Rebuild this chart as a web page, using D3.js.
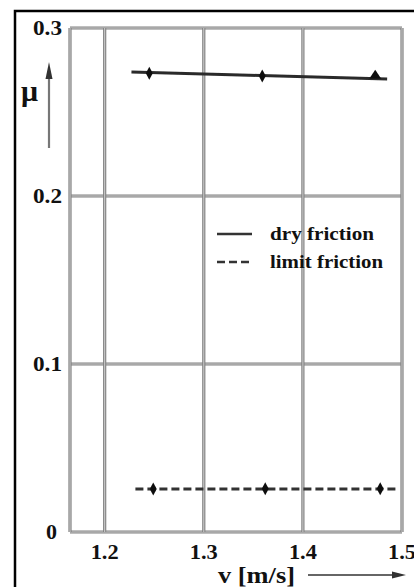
<!DOCTYPE html>
<html>
<head>
<meta charset="utf-8">
<script src="https://cdn.jsdelivr.net/npm/d3@7"></script>
<style>
  html, body { margin: 0; padding: 0; background: #fff; overflow: hidden; }
  svg { display: block; }
  text { font-family: "Liberation Serif", "DejaVu Serif", serif; font-weight: bold; fill: #111; }
</style>
</head>
<body>
<svg id="chart" width="414" height="587"></svg>
<script>
// axis ticks
const xTicks = [1.2, 1.3, 1.4, 1.5];
const yTicks = [0, 0.1, 0.2, 0.3];
const xTickLabels = ["1.2", "1.3", "1.4", "1.5"];
const yTickLabels = ["0", "0.1", "0.2", "0.3"];

// dry friction: fitted line ends and measured points
const dryLineV = [1.227, 1.485];
const dryLineMu = [0.2738, 0.2696];
const dryV = [1.245, 1.359, 1.473];
const dryMu = [0.2731, 0.2714, 0.2704];

// limit friction
const limitLineV = [1.231, 1.496];
const limitLineMu = [0.0256, 0.0256];
const limitV = [1.249, 1.362, 1.478];
const limitMu = [0.0256, 0.0257, 0.0258];

const legendNames = ["dry friction", "limit friction"];

const svg = d3.select("#chart");

const x = d3.scaleLinear().domain([1.165, 1.5]).range([70, 402]);
const y = d3.scaleLinear().domain([0, 0.3]).range([532, 28]);

// soft blur so the marks look like the scanned original
const defs = svg.append("defs");
defs.append("filter").attr("id", "soft")
  .attr("x", -0.2).attr("y", -1).attr("width", 1.4).attr("height", 3)
  .append("feGaussianBlur").attr("stdDeviation", 0.6);

// outer frame (only top and left edges are visible)
svg.append("path")
  .attr("d", "M15,600 L15,11 L420,11")
  .attr("fill", "none")
  .attr("stroke", "#000")
  .attr("stroke-width", 2.5);

// grid: doubled gray lines like the scan
const grid = svg.append("g").attr("class", "grid");
function gridLine(x1, y1, x2, y2) {
  grid.append("line").attr("x1", x1).attr("y1", y1).attr("x2", x2).attr("y2", y2)
    .attr("stroke", "#808080").attr("stroke-width", 3.2);
  grid.append("line").attr("x1", x1).attr("y1", y1).attr("x2", x2).attr("y2", y2)
    .attr("stroke", "#d0d0d0").attr("stroke-width", 1);
}
const [x0, x1] = x.range();
const [y0, y1] = y.range();
yTicks.forEach(t => gridLine(x0, y(t), x1, y(t)));
gridLine(x0, y1, x0, y0);
xTicks.forEach(t => gridLine(x(t), y1, x(t), y0));

// tick labels
svg.append("g").selectAll("text")
  .data(yTicks)
  .join("text")
  .attr("x", d => d === 0 ? 57 : 62)
  .attr("y", d => y(d) + 7)
  .attr("text-anchor", "end")
  .attr("font-size", 22)
  .attr("textLength", d => d === 0 ? 11 : 29)
  .attr("lengthAdjust", "spacingAndGlyphs")
  .text((d, i) => yTickLabels[i]);

svg.append("g").selectAll("text")
  .data(xTicks)
  .join("text")
  .attr("x", d => x(d))
  .attr("y", 559)
  .attr("text-anchor", "middle")
  .attr("font-size", 22)
  .attr("textLength", 28)
  .attr("lengthAdjust", "spacingAndGlyphs")
  .text((d, i) => xTickLabels[i]);

// axis titles with arrows
svg.append("text")
  .attr("x", 21).attr("y", 101)
  .attr("font-size", 30)
  .attr("font-weight", "normal")
  .text("μ");

svg.append("text")
  .attr("x", 218).attr("y", 583)
  .attr("font-size", 23)
  .attr("textLength", 77)
  .attr("lengthAdjust", "spacingAndGlyphs")
  .text("v [m/s]");

const arrows = svg.append("g").attr("filter", "url(#soft)");
arrows.append("line")
  .attr("x1", 49).attr("y1", 148).attr("x2", 49).attr("y2", 70)
  .attr("stroke", "#777").attr("stroke-width", 2.2);
arrows.append("path")
  .attr("d", "M49,62 L52.5,79 L45.5,79 Z")
  .attr("fill", "#333");
arrows.append("line")
  .attr("x1", 308).attr("y1", 575).attr("x2", 396).attr("y2", 575)
  .attr("stroke", "#666").attr("stroke-width", 2);
arrows.append("path")
  .attr("d", "M406,575 L392,571.5 L392,578.5 Z")
  .attr("fill", "#333");

// data lines
const line = d3.line().x(d => x(d[0])).y(d => y(d[1]));
const marks = svg.append("g").attr("filter", "url(#soft)");

marks.append("path")
  .datum(d3.zip(dryLineV, dryLineMu))
  .attr("d", line)
  .attr("fill", "none")
  .attr("stroke", "#2a2a2a")
  .attr("stroke-width", 3);

marks.append("path")
  .datum(d3.zip(limitLineV, limitLineMu))
  .attr("d", line)
  .attr("fill", "none")
  .attr("stroke", "#333")
  .attr("stroke-width", 3)
  .attr("stroke-dasharray", "8,4");

// point markers: narrow vertical diamonds (last dry one is a triangle)
const diamond = "M0,-6.5 L3.5,0 L0,6.5 L-3.5,0 Z";
marks.append("g").selectAll("path")
  .data(d3.zip(dryV, dryMu))
  .join("path")
  .attr("transform", d => `translate(${x(d[0])},${y(d[1])})`)
  .attr("d", (d, i) => i === dryV.length - 1 ? "M0,-8 L6,1 L-6,1 Z" : diamond)
  .attr("fill", "#111");

marks.append("g").selectAll("path")
  .data(d3.zip(limitV, limitMu))
  .join("path")
  .attr("transform", d => `translate(${x(d[0])},${y(d[1])})`)
  .attr("d", diamond)
  .attr("fill", "#111");

// legend
const legend = svg.append("g");
legendNames.forEach((name, i) => {
  const ly = 234 + i * 28;
  legend.append("path")
    .attr("d", `M217,${ly} L252,${ly}`)
    .attr("stroke", "#333")
    .attr("stroke-width", 2.6)
    .attr("stroke-dasharray", i === 0 ? null : "8,4");
  legend.append("text")
    .attr("x", 270).attr("y", ly + 6)
    .attr("font-size", 18)
    .attr("textLength", i === 0 ? 104 : 113)
    .attr("lengthAdjust", "spacingAndGlyphs")
    .text(name);
});
</script>
</body>
</html>
